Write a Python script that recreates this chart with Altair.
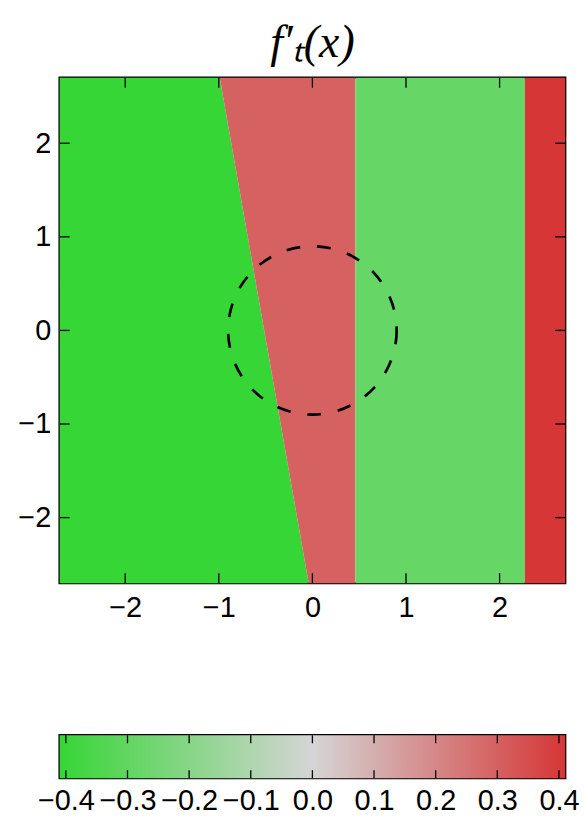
import altair as alt
import pandas as pd

# ---- data ----
REGION_NAMES = ["green", "pink", "lightgreen", "red"]
REGION_VALUES = [-0.41, 0.30, -0.285, 0.41]
LEFT_AT_TOP = [-2.7, -0.99, 0.46, 2.27]
LEFT_AT_BOTTOM = [-2.7, -0.04, 0.46, 2.27]
RIGHT_AT_TOP = [-0.99, 0.46, 2.27, 2.7]
RIGHT_AT_BOTTOM = [-0.04, 0.46, 2.27, 2.7]
Y_EXTENT = [-2.7, 2.7]
X_EXTENT = [-2.7, 2.7]

CIRCLE_CENTER = [0.0, 0.0]
CIRCLE_RADIUS = 0.9

AXIS_TICKS = [-2, -1, 0, 1, 2]
CB_TICKS = [-0.4, -0.3, -0.2, -0.1, 0.0, 0.1, 0.2, 0.3, 0.4]
CB_DOMAIN = [-0.41, 0.41]
CMAP_VALUES = [-0.41, 0.0, 0.41]
CMAP_COLORS = ["#36D636", "#D5D5D5", "#D63636"]

W = 508
H = 508
CB_H = 43
FONT = "Liberation Sans"
FS = 29

rows = []
for name, v, lt, lb, rt, rb in zip(REGION_NAMES, REGION_VALUES, LEFT_AT_TOP,
                                   LEFT_AT_BOTTOM, RIGHT_AT_TOP, RIGHT_AT_BOTTOM):
    rows.append({"region": name, "value": v, "y": Y_EXTENT[0], "x": lb, "x2": rb})
    rows.append({"region": name, "value": v, "y": Y_EXTENT[1], "x": lt, "x2": rt})
regions = pd.DataFrame(rows)

xscale = alt.Scale(domain=X_EXTENT, nice=False, zero=False)
yscale = alt.Scale(domain=Y_EXTENT, nice=False, zero=False)
cscale = alt.Scale(domain=CMAP_VALUES, range=CMAP_COLORS, interpolate="rgb")

axis_common = dict(values=AXIS_TICKS, format="d", ticks=False, domain=False,
                   grid=False, labelFont=FONT, labelFontSize=FS, labelColor="black")

areas = alt.Chart(regions).mark_area(orient="horizontal").encode(
    y=alt.Y("y:Q", scale=yscale, title=None,
            axis=alt.Axis(labelPadding=9, **axis_common)),
    x=alt.X("x:Q", scale=xscale, title=None,
            axis=alt.Axis(labelPadding=11, **axis_common)),
    x2="x2:Q",
    color=alt.Color("value:Q", scale=cscale, legend=None),
    detail="region:N",
)

px_per_unit = W / (X_EXTENT[1] - X_EXTENT[0])
diam = 2 * CIRCLE_RADIUS * px_per_unit
circle_df = pd.DataFrame({"cx": [CIRCLE_CENTER[0]], "cy": [CIRCLE_CENTER[1]]})
circle = alt.Chart(circle_df).mark_point(
    shape="circle", size=diam * diam, filled=False, stroke="black",
    strokeWidth=2.7, strokeDash=[14, 17], opacity=1,
).encode(x=alt.X("cx:Q", title=None), y=alt.Y("cy:Q", title=None))

ticks_df = pd.DataFrame({"t": AXIS_TICKS})
TL = 10
tick_style = dict(color="black", strokeWidth=1.3)
xt_bottom = alt.Chart(ticks_df).mark_rule(**tick_style).encode(
    x=alt.X("t:Q", title=None), y=alt.value(H), y2=alt.value(H - TL))
xt_top = alt.Chart(ticks_df).mark_rule(**tick_style).encode(
    x=alt.X("t:Q", title=None), y=alt.value(0), y2=alt.value(TL))
yt_left = alt.Chart(ticks_df).mark_rule(**tick_style).encode(
    y=alt.Y("t:Q", title=None), x=alt.value(0), x2=alt.value(TL))
yt_right = alt.Chart(ticks_df).mark_rule(**tick_style).encode(
    y=alt.Y("t:Q", title=None), x=alt.value(W - TL), x2=alt.value(W))

main = alt.layer(areas, circle, xt_bottom, xt_top, yt_left, yt_right).properties(
    width=W, height=H,
    title=alt.TitleParams("f′ₜ(x)", font="Liberation Serif", fontSize=46,
                          fontStyle="italic", fontWeight="normal",
                          anchor="middle", offset=10, color="black"),
)

# ---- colour bar ----
span = CB_DOMAIN[1] - CB_DOMAIN[0]
stops = [alt.GradientStop(color=c, offset=(v - CB_DOMAIN[0]) / span)
         for v, c in zip(CMAP_VALUES, CMAP_COLORS)]
grad = alt.Gradient(gradient="linear", stops=stops, x1=0, x2=1, y1=0, y2=0)
cb_df = pd.DataFrame({"lo": [CB_DOMAIN[0]], "hi": [CB_DOMAIN[1]]})
cbscale = alt.Scale(domain=CB_DOMAIN, nice=False, zero=False)
cb_rect = alt.Chart(cb_df).mark_rect(fill=grad).encode(
    x=alt.X("lo:Q", scale=cbscale, title=None,
            axis=alt.Axis(values=CB_TICKS, format=".1f", ticks=False, domain=False,
                          grid=False, labelFont=FONT, labelFontSize=FS,
                          labelColor="black", labelPadding=9)),
    x2="hi:Q",
    y=alt.value(0), y2=alt.value(CB_H),
)
cbt_df = pd.DataFrame({"t": CB_TICKS})
CTL = 8
cb_t_top = alt.Chart(cbt_df).mark_rule(**tick_style).encode(
    x=alt.X("t:Q", title=None), y=alt.value(0), y2=alt.value(CTL))
cb_t_bot = alt.Chart(cbt_df).mark_rule(**tick_style).encode(
    x=alt.X("t:Q", title=None), y=alt.value(CB_H), y2=alt.value(CB_H - CTL))
colorbar = alt.layer(cb_rect, cb_t_top, cb_t_bot).properties(width=W, height=CB_H)

chart = alt.vconcat(main, colorbar, spacing=109).properties(
    padding={"left": 16, "top": 17, "right": 5, "bottom": 5},
    background="white",
).configure_view(stroke="black", strokeWidth=2.5)

chart.save("out.html", embed_options={"renderer": "svg", "actions": False})
